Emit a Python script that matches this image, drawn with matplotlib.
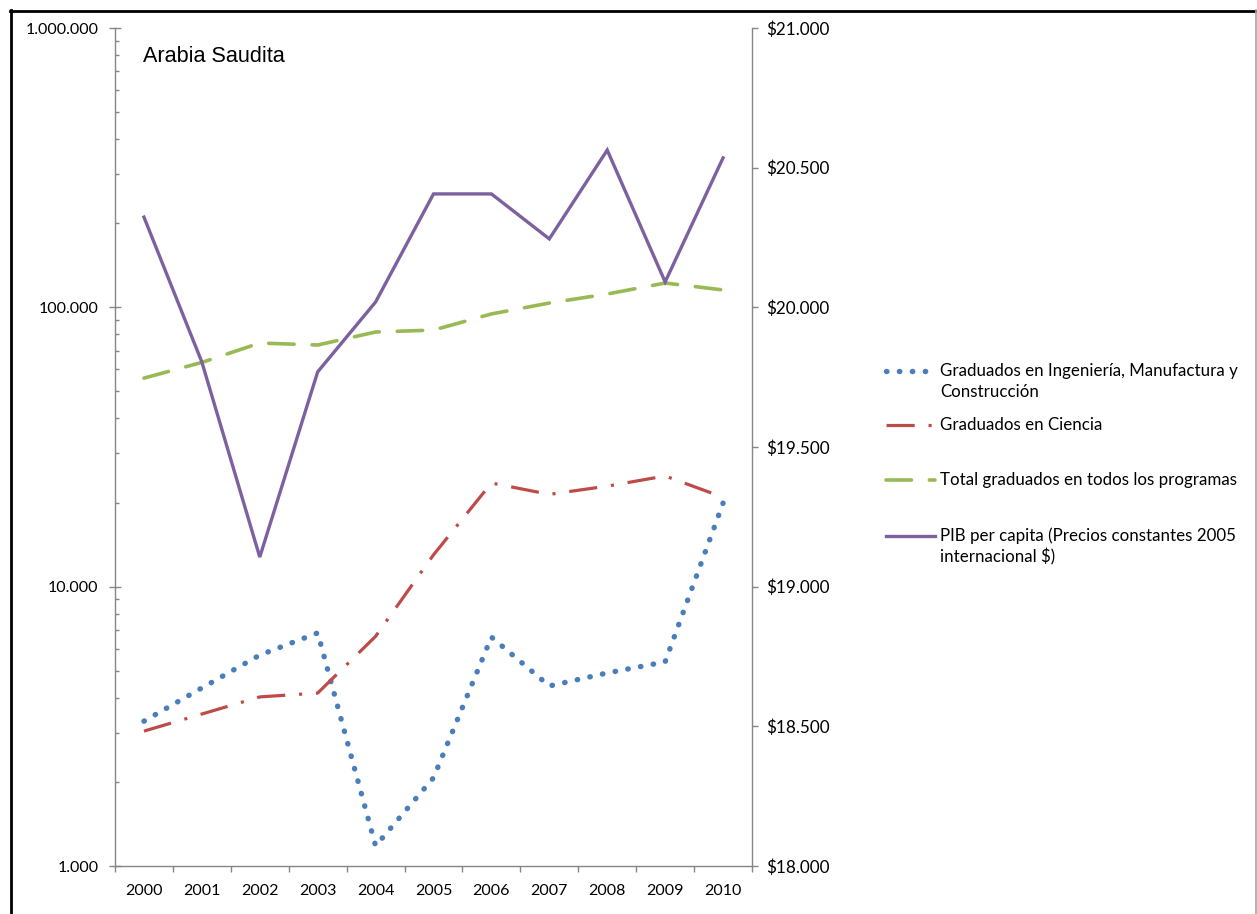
import matplotlib
matplotlib.use("Agg")
import matplotlib.pyplot as plt
from matplotlib.lines import Line2D
from matplotlib.ticker import FixedLocator, FuncFormatter, LogLocator, NullFormatter

plt.rcParams["lines.scale_dashes"] = False

years = ["2000", "2001", "2002", "2003", "2004", "2005", "2006", "2007", "2008", "2009", "2010"]
ingenieria = [3300, 4340, 5690, 6830, 1180, 2070, 6600, 4410, 4910, 5380, 19900]
ciencia = [3040, 3500, 4030, 4160, 6640, 13000, 23500, 21400, 22900, 24900, 20900]
total = [55800, 63500, 74500, 73300, 81600, 82900, 94700, 103600, 111600, 122200, 115400]
pib = [20323, 19804, 19106, 19769, 20019, 20406, 20406, 20245, 20563, 20091, 20535]

labels = [
    "Graduados en Ingeniería, Manufactura y\nConstrucción",
    "Graduados en Ciencia",
    "Total graduados en todos los programas",
    "PIB per capita (Precios constantes 2005\ninternacional $)",
]

BLUE = "#4A7EBB"
RED = "#BE4B48"
GREEN = "#98B954"
PURPLE = "#7D60A0"
AXIS = "#868686"
FONT = "Lato"

W, H = 1257, 914
fig = plt.figure(figsize=(W / 100, H / 100), dpi=100)


def fx(px):
    return px / W


def fy(py):
    return 1 - py / H


ax = fig.add_axes([fx(115), fy(866), fx(752) - fx(115), fy(28) - fy(866)])
ax2 = ax.twinx()

x = list(range(len(years)))

styles = {
    "ing": dict(color=BLUE, lw=3.9, dashes=(0.3, 9.0), dash_capstyle="round"),
    "cie": dict(color=RED, lw=2.3, dashes=(20.3, 10.0, 2.2, 10.0), dash_capstyle="butt"),
    "tot": dict(color=GREEN, lw=2.6, dashes=(18.3, 12.9), dash_capstyle="round"),
    "pib": dict(color=PURPLE, lw=2.4, solid_joinstyle="miter"),
}

ax.plot(x, ingenieria, **styles["ing"])
ax.plot(x, ciencia, **styles["cie"])
ax.plot(x, total, **styles["tot"])
ax2.plot(x, pib, **styles["pib"])

# left (log) axis
ax.set_yscale("log")
ax.set_ylim(1000, 1_000_000)
ax.set_xlim(-0.5, len(years) - 0.5)
ax.yaxis.set_major_locator(FixedLocator([1000, 10000, 100000, 1000000]))
ax.yaxis.set_minor_locator(LogLocator(base=10, subs=range(2, 10)))
ax.yaxis.set_minor_formatter(NullFormatter())
ax.yaxis.set_major_formatter(FuncFormatter(lambda v, p: f"{int(round(v)):,}".replace(",", ".")))
ax.tick_params(axis="y", which="major", direction="inout", length=8, width=1, color=AXIS,
               pad=8, labelsize=11.5, labelcolor="black", labelfontfamily=FONT)
ax.tick_params(axis="y", which="minor", direction="in", length=3, width=1, color=AXIS)

# category axis
ax.set_xticks(x)
ax.set_xticklabels(years, fontfamily=FONT, fontsize=11.5)
ax.set_xticks([i - 0.5 for i in range(len(years) + 1)], minor=True)
ax.tick_params(axis="x", which="major", length=0, pad=13)
ax.tick_params(axis="x", which="minor", direction="out", length=4, width=1, color=AXIS)

# right (PIB) axis
ax2.set_ylim(18000, 21000)
ax2.set_yticks(range(18000, 21001, 500))
ax2.yaxis.set_major_formatter(FuncFormatter(lambda v, p: "$" + f"{int(v):,}".replace(",", ".")))
ax2.tick_params(axis="y", direction="out", length=4, width=1, color=AXIS, pad=6,
                labelsize=12.3, labelcolor="black", labelfontfamily=FONT)

for a in (ax, ax2):
    a.spines["top"].set_visible(False)
    for s in a.spines.values():
        s.set_color(AXIS)
        s.set_linewidth(1)
ax.spines["right"].set_visible(False)
ax2.spines["left"].set_visible(False)
ax2.spines["bottom"].set_visible(False)

fig.text(fx(143), fy(57), "Arabia Saudita", fontfamily="Liberation Sans", fontsize=15.6,
         ha="left", va="center")

# legend drawn entry by entry
legend_rows = [("ing", 371), ("cie", 425), ("tot", 480), ("pib", 536)]
for (key, ypx), text in zip(legend_rows, labels):
    fig.add_artist(Line2D([fx(886), fx(935)], [fy(ypx), fy(ypx)], transform=fig.transFigure,
                          **styles[key]))
    for k, line in enumerate(text.split("\n")):
        fig.text(fx(940), fy(ypx + 21 * k), line, fontfamily=FONT, fontsize=12.2,
                 ha="left", va="center")

# outer frame
fig.add_artist(Line2D([fx(10), fx(1257)], [fy(10.5), fy(10.5)], transform=fig.transFigure,
                      color="black", lw=2))
fig.add_artist(Line2D([fx(10.5), fx(10.5)], [fy(10), fy(914)], transform=fig.transFigure,
                      color="black", lw=2))
fig.add_artist(Line2D([fx(1256), fx(1256)], [fy(10), fy(914)], transform=fig.transFigure,
                      color="#A6A6A6", lw=1.2))

fig.savefig("out.png", dpi=100)
